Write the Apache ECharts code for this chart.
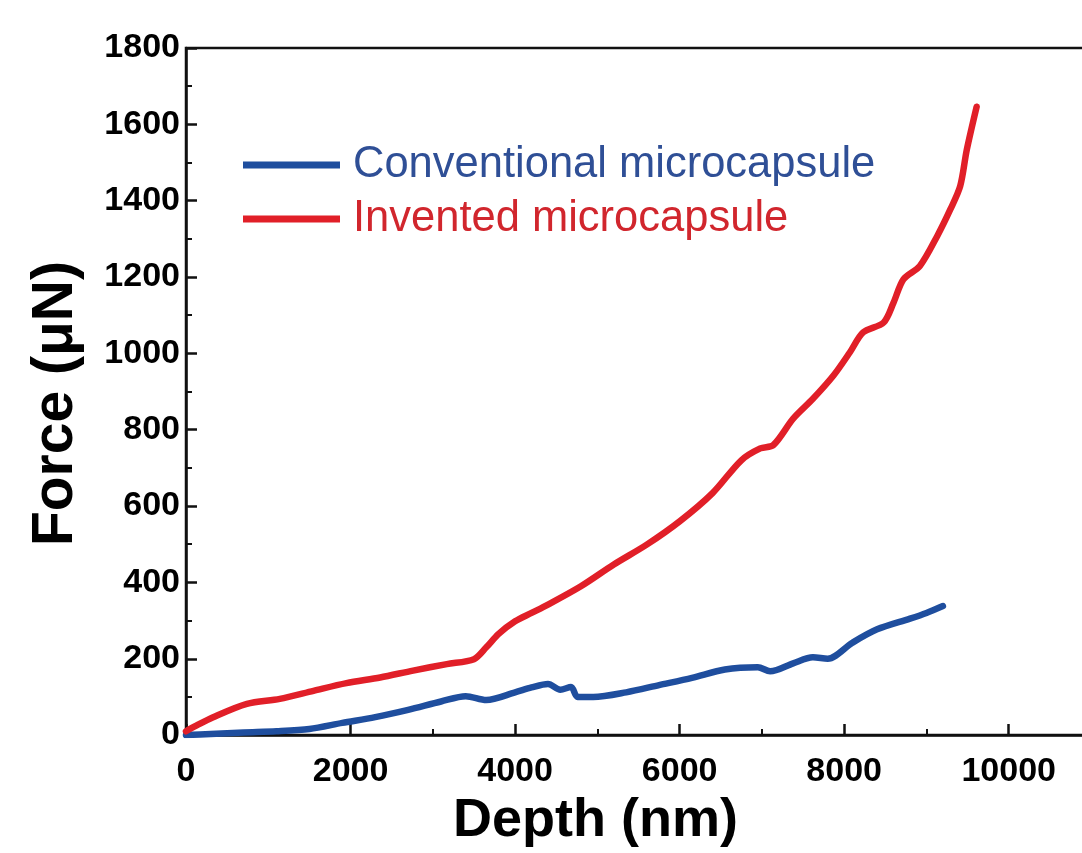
<!DOCTYPE html>
<html style="height: 100%; overflow: hidden">
<head>
    <meta charset="utf-8">
</head>
<body style="height: 100%; margin: 0; background: #fff; overflow: hidden">
    <div id="container" style="width: 1092px; height: 853px"></div>
    <script type="text/javascript" src="https://cdn.jsdelivr.net/npm/echarts@6.0.0/dist/echarts.min.js"></script>
    <script type="text/javascript">
        var font = '"Liberation Sans", Arial, sans-serif';

        // conventional microcapsule (blue)
        var convDepth = [0, 300, 700, 1100, 1500, 1900, 2300, 2700, 3100, 3400, 3650, 4000, 4200, 4400, 4550, 4680, 4760, 4950, 5350, 5750, 6150, 6550, 6950, 7100, 7380, 7620, 7800, 8100, 8400, 8800, 9000, 9200];
        var convForce = [0, 3, 7, 10, 16, 32, 47, 66, 88, 102, 92, 112, 125, 134, 119, 126, 100, 100, 112, 131, 150, 172, 178, 167, 188, 204, 200, 242, 277, 305, 320, 338];

        // invented microcapsule (red)
        var invDepth = [0, 100, 330, 740, 1140, 1550, 1950, 2360, 2760, 3170, 3500, 3650, 3800, 4000, 4200, 4400, 4800, 5200, 5600, 6000, 6400, 6750, 6980, 7140, 7380, 7620, 7870, 8070, 8230, 8480, 8600, 8720, 8920, 9130, 9290, 9410, 9490, 9610];
        var invForce = [10, 22, 47, 82, 95, 116, 136, 151, 169, 186, 199, 230, 265, 298, 320, 342, 390, 447, 499, 560, 634, 720, 751, 760, 829, 881, 942, 1003, 1055, 1081, 1133, 1194, 1229, 1307, 1377, 1438, 1533, 1646];

        var seriesNames = ['Conventional microcapsule', 'Invented microcapsule'];
        var lineColors = ['#1f4e9e', '#e11f28'];
        var textColors = ['#2f4f96', '#d1262d'];

        function pairs(xs, ys) {
            var res = [];
            for (var i = 0; i < xs.length; i++) {
                res.push([xs[i], ys[i]]);
            }
            return res;
        }

        function plain(v) {
            return String(v);
        }

        var myChart = echarts.init(document.getElementById('container'));
        var option = {
            backgroundColor: '#fff',
            animation: false,
            grid: {
                left: 186,
                top: 48,
                bottom: 115,
                right: 1,
                show: true,
                borderColor: '#111',
                borderWidth: 2.5,
                containLabel: false
            },
            legend: {
                orient: 'vertical',
                left: 238,
                top: 138,
                itemWidth: 97,
                itemHeight: 7,
                itemGap: 10,
                icon: 'rect',
                selectedMode: false,
                data: [
                    { name: seriesNames[0], textStyle: { color: textColors[0] } },
                    { name: seriesNames[1], textStyle: { color: textColors[1] } }
                ],
                textStyle: {
                    fontFamily: font,
                    fontSize: 43.5,
                    lineHeight: 43,
                    padding: [0, 0, 0, 8]
                }
            },
            xAxis: {
                type: 'value',
                min: 0,
                max: 11000,
                interval: 2000,
                name: 'Depth (nm)',
                nameLocation: 'middle',
                nameGap: 57,
                nameTextStyle: {
                    fontFamily: font,
                    fontWeight: 'bold',
                    fontSize: 54,
                    color: '#000',
                    padding: [0, 86, 0, 0]
                },
                axisLine: { lineStyle: { color: '#111', width: 2.5 } },
                axisTick: { inside: true, length: 11, lineStyle: { color: '#111', width: 2.5 } },
                minorTick: { show: true, splitNumber: 2, length: 6, lineStyle: { color: '#111', width: 2 } },
                splitLine: { show: false },
                axisLabel: {
                    margin: 20,
                    fontFamily: font,
                    fontWeight: 'bold',
                    fontSize: 34,
                    color: '#000',
                    showMaxLabel: false,
                    formatter: plain
                }
            },
            yAxis: {
                type: 'value',
                min: 0,
                max: 1800,
                interval: 200,
                name: 'Force (μN)',
                nameLocation: 'middle',
                nameGap: 101,
                nameRotate: 90,
                nameTextStyle: {
                    fontFamily: font,
                    fontWeight: 'bold',
                    fontSize: 57,
                    color: '#000',
                    padding: [0, 24, 0, 0]
                },
                axisLine: { lineStyle: { color: '#111', width: 2.5 } },
                axisTick: { inside: true, length: 11, lineStyle: { color: '#111', width: 2.5 } },
                minorTick: { show: true, splitNumber: 2, length: 6, lineStyle: { color: '#111', width: 2 } },
                splitLine: { show: false },
                axisLabel: {
                    margin: 6,
                    fontFamily: font,
                    fontWeight: 'bold',
                    fontSize: 34,
                    color: '#000',
                    formatter: plain
                }
            },
            series: [{
                name: seriesNames[0],
                type: 'line',
                data: pairs(convDepth, convForce),
                showSymbol: false,
                smooth: 0.3,
                color: lineColors[0],
                lineStyle: { width: 6.5, color: lineColors[0], cap: 'round', join: 'round' }
            }, {
                name: seriesNames[1],
                type: 'line',
                data: pairs(invDepth, invForce),
                showSymbol: false,
                smooth: 0.3,
                color: lineColors[1],
                lineStyle: { width: 6.5, color: lineColors[1], cap: 'round', join: 'round' }
            }]
        };
        myChart.setOption(option);
    </script>
</body>
</html>
